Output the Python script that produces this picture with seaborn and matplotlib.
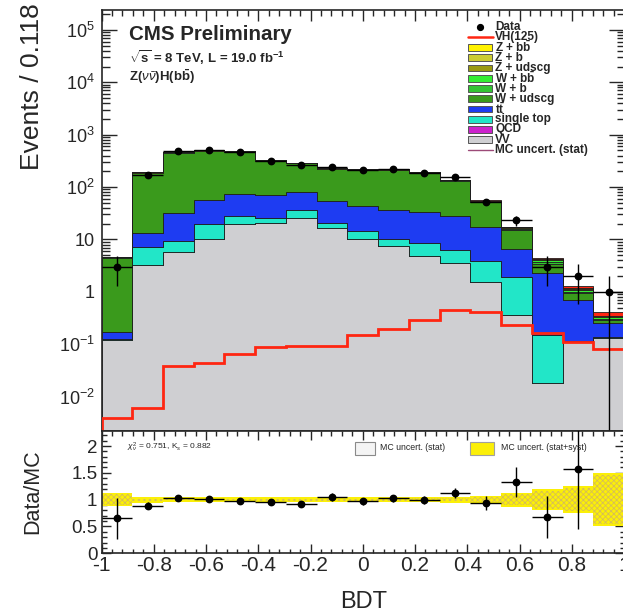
import numpy as np
import pandas as pd
import matplotlib
matplotlib.use("Agg")
import matplotlib.pyplot as plt
from matplotlib.patches import Rectangle
from matplotlib.lines import Line2D
from matplotlib.ticker import FixedLocator, MultipleLocator, FuncFormatter, NullFormatter
import seaborn as sns

# ---------------------------------------------------------------- data
bin_edges = np.linspace(-1.0, 1.0, 18)          # 17 bins, width 0.118
bin_centers = 0.5 * (bin_edges[:-1] + bin_edges[1:])
half_width = 0.5 * (bin_edges[1] - bin_edges[0])

vv        = [0.119, 3.27, 5.73, 10.3, 19.6, 20.5, 25.5, 16.4, 10.3, 7.55, 4.93, 3.53, 1.52, 0.364, 0.0181, 0.111, 0.131]
qcd       = [0, 0, 0, 0, 0, 0, 0, 0, 0, 0, 0, 0, 0, 0, 0, 0, 0]
single_top = [0.005, 3.86, 3.80, 9.3, 9.0, 5.0, 10.7, 4.1, 3.9, 2.75, 3.67, 2.77, 2.39, 1.55, 0.133, 0.004, 0.004]
ttbar     = [0.045, 6.07, 22.3, 37.4, 44.4, 45.5, 44.8, 32.5, 29.6, 26.4, 25.5, 21.9, 13.2, 4.71, 2.13, 0.585, 0.117]
w_udscg   = [4.25, 169.6, 420.6, 424.4, 401.2, 248.6, 200.7, 168.8, 171.8, 174.8, 149.2, 104.0, 35.2, 8.75, 1.09, 0.232, 0.038]
w_b       = [0.05, 1.8, 4.4, 4.4, 4.2, 2.6, 2.1, 1.8, 1.8, 1.8, 1.6, 1.1, 0.8, 0.5, 0.30, 0.08, 0.016]
w_bb      = [0.05, 1.8, 4.4, 4.4, 4.2, 2.6, 2.1, 1.8, 1.8, 1.8, 1.6, 1.1, 0.8, 0.5, 0.35, 0.09, 0.018]
z_udscg   = [0.04, 1.8, 4.4, 4.4, 4.2, 2.6, 2.1, 1.8, 1.8, 1.8, 1.6, 1.1, 0.6, 0.3, 0.10, 0.03, 0.008]
z_b       = [0.02, 0.9, 2.2, 2.2, 2.1, 1.3, 1.0, 0.9, 0.9, 0.9, 0.8, 0.5, 0.3, 0.15, 0.06, 0.015, 0.004]
z_bb      = [0.02, 0.9, 2.2, 2.2, 2.1, 1.3, 1.0, 0.9, 0.9, 0.9, 0.8, 0.5, 0.3, 0.15, 0.06, 0.015, 0.004]
vh_125    = [0.0039, 0.0060, 0.0388, 0.0436, 0.0656, 0.0879, 0.0904, 0.093, 0.151, 0.197, 0.292, 0.453, 0.415, 0.234, 0.163, 0.108, 0.0805]

data_counts = [3, 169, 484, 505, 476, 316, 268, 241, 216, 224, 189, 154, 52, 23, 3, 2, 1]

# relative MC uncertainties used in the ratio panel
unc_stat_syst = [0.12, 0.055, 0.05, 0.05, 0.05, 0.05, 0.05, 0.05, 0.05, 0.05, 0.05, 0.055, 0.07, 0.13, 0.19, 0.25, 0.50]
unc_stat      = [0.10, 0.02, 0.015, 0.015, 0.015, 0.02, 0.02, 0.02, 0.02, 0.02, 0.025, 0.03, 0.05, 0.10, 0.17, 0.22, 0.46]

# stacking order, top to bottom (seaborn puts the first hue level on top)
processes = ["VH", "Z + bb", "Z + b", "Z + udscg", "W + bb", "W + b",
             "W + udscg", "tt", "single top", "QCD", "VV"]
yields = [vh_125, z_bb, z_b, z_udscg, w_bb, w_b, w_udscg, ttbar, single_top, qcd, vv]

colors = {
    "VV": "#cfcfd2",
    "QCD": "#cc22cc",
    "single top": "#22e6c8",
    "tt": "#1e3cf2",
    "W + udscg": "#3a9a1c",
    "W + b": "#33c433",
    "W + bb": "#33ee33",
    "Z + udscg": "#9a9a10",
    "Z + b": "#cccc33",
    "Z + bb": "#fff200",
    "VH": "#ff2612",
}
RED = "#ff2612"
YELLOW = "#fbef08"

# ---------------------------------------------------------------- style
sns.set_style("ticks")
plt.rcParams["font.family"] = ["Liberation Sans", "DejaVu Sans"]
plt.rcParams["mathtext.fontset"] = "custom"
plt.rcParams["mathtext.rm"] = "Liberation Sans"
plt.rcParams["mathtext.it"] = "Liberation Sans:italic"
plt.rcParams["mathtext.bf"] = "Liberation Sans:bold"
plt.rcParams["axes.unicode_minus"] = False
plt.rcParams["hatch.linewidth"] = 0.5

W, H = 623, 613
PT = 72.0 / 100.0


def box(x0, y0, x1, y1):
    return [x0 / W, 1 - y1 / H, (x1 - x0) / W, (y1 - y0) / H]


def fx(x):
    return x / W


def fy(y):
    return 1 - y / H


fig = plt.figure(figsize=(W / 100, H / 100), dpi=100)
ax = fig.add_axes(box(101.5, 10, 624, 431))
rax = fig.add_axes(box(101.5, 431, 624, 553.3))

# ---------------------------------------------------------------- stack
df = pd.DataFrame({
    "bdt": np.tile(bin_centers, len(processes)),
    "events": np.concatenate([np.asarray(v, float) for v in yields]),
    "process": np.repeat(processes, len(bin_centers)),
})
sns.histplot(data=df, x="bdt", weights="events", hue="process",
             hue_order=processes, multiple="stack", bins=list(bin_edges),
             element="step", palette=colors, alpha=1.0,
             edgecolor="#1e1e1e", linewidth=0.6, legend=False, ax=ax)
ax.set_yscale("log")

# signal alone
ax.stairs(vh_125, bin_edges, color=RED, linewidth=2.0, zorder=8)

# data
data = np.asarray(data_counts, float)
derr = np.sqrt(data)
dlow = np.minimum(derr, data - 1e-6)
ax.errorbar(bin_centers, data, yerr=[dlow, derr], xerr=half_width, fmt="o",
            ms=4.6, color="black", lw=1.0, capsize=0, zorder=10)

ax.set_xlim(-1, 1)
ax.set_ylim(2.2e-3, 2.4e5)
ax.set_xlabel("")
ax.set_ylabel("")

decades = [1e-2, 1e-1, 1, 10, 1e2, 1e3, 1e4, 1e5]


def log_label(v, pos):
    e = int(round(np.log10(v)))
    if e == 0:
        return "1"
    if e == 1:
        return "10"
    return r"$10^{%d}$" % e


ax.yaxis.set_major_locator(FixedLocator(decades))
ax.yaxis.set_major_formatter(FuncFormatter(log_label))
ax.yaxis.set_minor_locator(matplotlib.ticker.LogLocator(base=10, subs=np.arange(2, 10), numticks=30))
ax.yaxis.set_minor_formatter(NullFormatter())
ax.xaxis.set_major_locator(MultipleLocator(0.2))
ax.xaxis.set_minor_locator(MultipleLocator(0.04))
ax.tick_params(axis="both", which="both", direction="in", top=True, right=True,
               labelbottom=False, width=1.0)
ax.tick_params(axis="y", which="major", length=15 * PT, labelsize=13, pad=5)
ax.tick_params(axis="y", which="minor", length=7.5 * PT)
ax.tick_params(axis="x", which="major", length=11 * PT)
ax.tick_params(axis="x", which="minor", length=5.5 * PT)
for s in ax.spines.values():
    s.set_linewidth(1.2)

# ---------------------------------------------------------------- ratio
mc_total = np.sum([np.asarray(v, float) for v in yields], axis=0)
syst = np.asarray(unc_stat_syst)
stat = np.asarray(unc_stat)
rax.stairs(1 + syst, bin_edges, baseline=1 - syst, fill=True,
           color=YELLOW, linewidth=0, zorder=1)
rax.stairs(1 + stat, bin_edges, baseline=1 - stat, fill=True,
           facecolor="none", edgecolor="#d2b860", hatch="xxxxxx",
           linewidth=0, zorder=2)

ratio = data / mc_total
rerr = derr / mc_total
shown = ratio <= 2.27
rax.errorbar(bin_centers[shown], ratio[shown], yerr=rerr[shown],
             xerr=half_width, fmt="o", ms=4.6, color="black", lw=1.0,
             capsize=0, zorder=10)

rax.set_xlim(-1, 1)
rax.set_ylim(0, 2.28)
rax.yaxis.set_major_locator(FixedLocator([0, 0.5, 1, 1.5, 2]))
rax.yaxis.set_major_formatter(FuncFormatter(lambda v, p: "%g" % v))
rax.yaxis.set_minor_locator(MultipleLocator(0.1))
rax.xaxis.set_major_locator(MultipleLocator(0.2))
rax.xaxis.set_minor_locator(MultipleLocator(0.04))
rax.xaxis.set_major_formatter(FuncFormatter(lambda v, p: "%g" % round(v, 2)))
rax.tick_params(axis="both", which="both", direction="in", top=True, right=True, width=1.0)
rax.tick_params(axis="both", which="major", length=9 * PT)
rax.tick_params(axis="both", which="minor", length=4.5 * PT)
rax.tick_params(axis="y", which="major", pad=3, labelsize=13.5)
rax.tick_params(axis="x", which="major", pad=2, labelsize=15)
for s in rax.spines.values():
    s.set_linewidth(1.2)

# ---------------------------------------------------------------- texts
fig.text(fx(32), fy(3), "Events / 0.118", rotation=90, ha="center", va="top", fontsize=19)
fig.text(fx(33), fy(491.5), "Data/MC", rotation=90, ha="center", va="center", fontsize=15.5)
fig.text(fx(364), fy(602), "BDT", ha="center", va="center", fontsize=17)

fig.text(fx(129), fy(35), "CMS Preliminary", fontsize=14.8, fontweight="bold",
         ha="left", va="center")
fig.text(fx(129), fy(58), r"$\sqrt{\mathbf{s}}$ = 8 TeV, L = 19.0 fb$^{\mathbf{-1}}$",
         fontsize=9.5, fontweight="bold", ha="left", va="center")
fig.text(fx(129), fy(77), r"Z($\nu\bar{\nu}$)H($\mathbf{b\bar{b}}$)",
         fontsize=9.5, fontweight="bold", ha="left", va="center")

# legend of the upper panel
legend_rows = [
    ("Data", "marker", "black"),
    ("VH(125)", "line", RED),
    (r"Z + $\mathbf{b\bar{b}}$", "box", colors["Z + bb"]),
    ("Z + b", "box", colors["Z + b"]),
    ("Z + udscg", "box", colors["Z + udscg"]),
    (r"W + $\mathbf{b\bar{b}}$", "box", colors["W + bb"]),
    ("W + b", "box", colors["W + b"]),
    ("W + udscg", "box", colors["W + udscg"]),
    (r"$\mathbf{t\bar{t}}$", "box", colors["tt"]),
    ("single top", "box", colors["single top"]),
    ("QCD", "box", colors["QCD"]),
    ("VV", "box", colors["VV"]),
    ("MC uncert. (stat)", "line", "#9c4a78"),
]
for i, (label, kind, col) in enumerate(legend_rows):
    y = 27 + 10.25 * i
    if kind == "box":
        fig.add_artist(Rectangle((fx(468), fy(y + 3.3)), 24 / W, 6.6 / H,
                                 transform=fig.transFigure, facecolor=col,
                                 edgecolor="#555555", linewidth=0.7))
    elif kind == "line":
        fig.add_artist(Line2D([fx(468), fx(493)], [fy(y), fy(y)],
                              transform=fig.transFigure, color=col,
                              linewidth=1.8 if col == RED else 1.0))
    else:
        fig.add_artist(Line2D([fx(480)], [fy(y)], transform=fig.transFigure,
                              marker="o", ms=4.2, color=col, linestyle="none"))
    fig.text(fx(495), fy(y), label, fontsize=8.5, fontweight="bold",
             ha="left", va="center")

# ratio panel annotations
fig.text(fx(127), fy(447), r"$\chi^{2}_{\nu}$ = 0.751, K$_{s}$ = 0.882",
         fontsize=6, ha="left", va="center")
fig.add_artist(Rectangle((fx(355), fy(455)), 20 / W, 13 / H, transform=fig.transFigure,
                         facecolor="#f4f4f4", edgecolor="#8a8a8a", linewidth=0.8))
fig.text(fx(380), fy(448), "MC uncert. (stat)", fontsize=6.3, ha="left", va="center")
fig.add_artist(Rectangle((fx(470), fy(455)), 24 / W, 13 / H, transform=fig.transFigure,
                         facecolor=YELLOW, edgecolor="#a0a0a0", linewidth=0.8))
fig.text(fx(501), fy(448), "MC uncert. (stat+syst)", fontsize=6.3, ha="left", va="center")

fig.savefig("out.png", dpi=100)
